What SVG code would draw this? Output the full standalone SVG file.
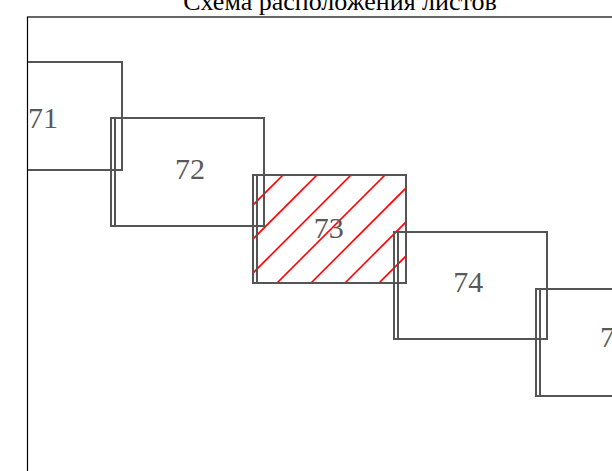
<svg xmlns="http://www.w3.org/2000/svg" width="612" height="471" viewBox="0 0 612 471">
<style>
.sheet{fill:none;stroke:#555555;stroke-width:2}
.edge{stroke:#555555;stroke-width:2}
.lbl{font-family:"Liberation Serif","Times New Roman",serif;font-size:30px;fill:#595959;text-anchor:middle}
.title{font-family:"Liberation Serif","Times New Roman",serif;font-size:26px;fill:#000;text-anchor:middle}
.hatch{stroke:#ff0000;stroke-width:1.6}
</style>
<defs>
<clipPath id="frameClip"><rect x="28" y="17.5" width="700" height="600"/></clipPath>
<clipPath id="c73"><rect x="253" y="175" width="153" height="108"/></clipPath>
</defs>
<rect width="612" height="471" fill="#fff"/>
<text class="title" x="340" y="9.8">Схема расположения листов</text>
<rect x="27.5" y="17" width="700" height="600" fill="none" stroke="#000" stroke-width="1.2"/>
<g clip-path="url(#frameClip)">
<g id="hatch73" clip-path="url(#c73)">
<line class="hatch" x1="200" y1="258" x2="300" y2="158"/>
<line class="hatch" x1="200" y1="292" x2="340" y2="152"/>
<line class="hatch" x1="200" y1="326" x2="374" y2="152"/>
<line class="hatch" x1="250" y1="310" x2="410" y2="150"/>
<line class="hatch" x1="284" y1="310" x2="444" y2="150"/>
<line class="hatch" x1="318" y1="310" x2="478" y2="150"/>
<line class="hatch" x1="352" y1="310" x2="512" y2="150"/>
</g>
<g id="sheet71">
<rect class="sheet" x="-31" y="62" width="153" height="108"/>
<line class="edge" x1="-27" y1="62" x2="-27" y2="170"/>
<text class="lbl" x="43" y="128.3">71</text>
</g>
<g id="sheet72">
<rect class="sheet" x="111" y="118" width="153" height="108"/>
<line class="edge" x1="115" y1="118" x2="115" y2="226"/>
<text class="lbl" x="190" y="179.3">72</text>
</g>
<g id="sheet73">
<rect class="sheet" x="253" y="175" width="153" height="108"/>
<line class="edge" x1="257" y1="175" x2="257" y2="283"/>
<text class="lbl" x="328.7" y="238.3">73</text>
</g>
<g id="sheet74">
<rect class="sheet" x="394" y="232" width="153" height="107"/>
<line class="edge" x1="398" y1="232" x2="398" y2="339"/>
<text class="lbl" x="468.3" y="292.3">74</text>
</g>
<g id="sheet75">
<rect class="sheet" x="536" y="289" width="153" height="107"/>
<line class="edge" x1="540" y1="289" x2="540" y2="396"/>
<text class="lbl" x="615" y="346.7">75</text>
</g>
</g>
<g id="connectors"></g>
</svg>
